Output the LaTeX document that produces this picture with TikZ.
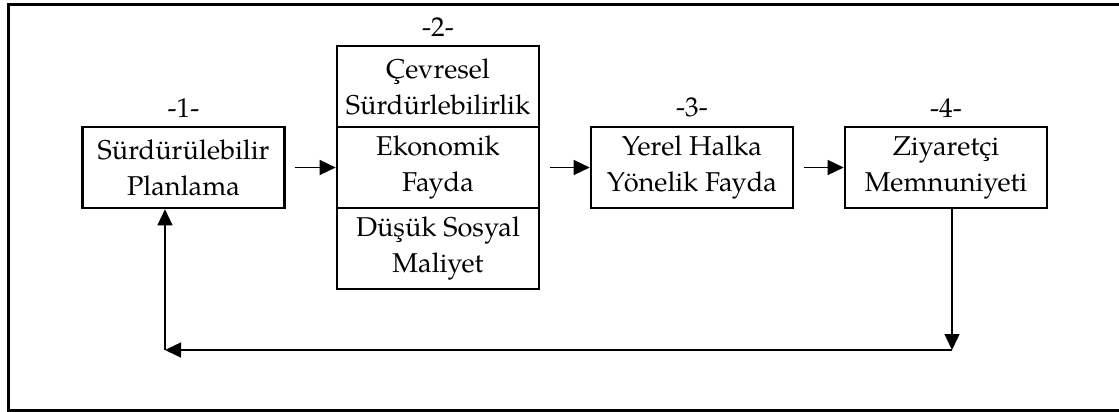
\documentclass[tikz,border=0pt]{standalone}
\usepackage{fontspec}
\setmainfont{TeX Gyre Pagella}
\usetikzlibrary{arrows.meta, positioning}

\begin{document}
\begin{tikzpicture}[x=0.5pt, y=-0.5pt, >={Triangle[length=8pt, width=7.5pt]}, font=\fontsize{13.6}{18}\selectfont]
			\tikzstyle{box} = [draw=black, line width=1.3pt, minimum width=101pt, minimum height=40.5pt, align=center, inner sep=0pt]
			\tikzstyle{num} = [inner sep=1pt]
			\tikzstyle{flow} = [line width=0.7pt]

			\useasboundingbox (0,0) rectangle (1119,412);
			\draw[line width=1.5pt] (1119,4) -- (8.5,4) -- (8.5,410) -- (1119,410);

			\node[box] 	at (183.5, 167.5) 	(plan) 		{Sürdürülebilir\\Planlama};
			\node[box] 	at (438, 86.5) 		(cevre) 	{Çevresel\\Sürdürlebilirlik};
			\node[box] 	at (438, 167.5) 	(eko) 		{Ekonomik\\Fayda};
			\node[box] 	at (438, 248.5) 	(sosyal) 	{Düşük Sosyal\\Maliyet};
			\node[box] 	at (692, 167.5) 	(yerel) 	{Yerel Halka\\Yönelik Fayda};
			\node[box] 	at (946, 167.5) 	(ziyaret) 	{Ziyaretçi\\Memnuniyeti};

			\node[num, above=3pt of plan] 		(n1) 	{-1-};
			\node[num, above=3pt of cevre] 		(n2) 	{-2-};
			\node[num, above=3pt of yerel] 		(n3) 	{-3-};
			\node[num, above=3pt of ziyaret] 	(n4) 	{-4-};

			\coordinate (c1) at (952, 350);
			\coordinate (c2) at (165, 350);

			\path[->, flow]
			(plan)					edge	[shorten <= 4.5pt]	(eko)
			(eko)					edge	[shorten <= 5pt]	(yerel)
			(yerel)					edge	[shorten <= 5pt]	(ziyaret)
			(ziyaret.south -| c1)	edge						(c1)
			(c1)					edge						(c2)
			(c2)					edge						(plan.south -| c2);
		\end{tikzpicture}
\end{document}
